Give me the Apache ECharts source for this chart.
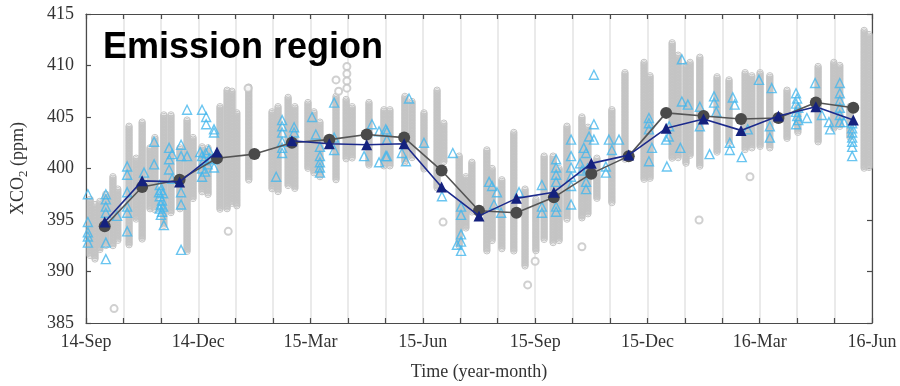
<!DOCTYPE html>
<html>
<head>
<meta charset="utf-8">
<script src="https://cdn.jsdelivr.net/npm/echarts@6/dist/echarts.min.js"></script>
<style>
  html, body { margin: 0; padding: 0; background: #fff; }
  #chart { width: 900px; height: 386px; }
</style>
</head>
<body>
<div id="chart"></div>
<script>
// months from 14-Sep to 16-May, monthly means drawn mid-month
const months = ['14-Sep', '14-Oct', '14-Nov', '14-Dec', '15-Jan', '15-Feb', '15-Mar', '15-Apr', '15-May',
  '15-Jun', '15-Jul', '15-Aug', '15-Sep', '15-Oct', '15-Nov', '15-Dec', '16-Jan', '16-Feb', '16-Mar',
  '16-Apr', '16-May'];
const tickLabels = ['14-Sep', '14-Dec', '15-Mar', '15-Jun', '15-Sep', '15-Dec', '16-Mar', '16-Jun'];
const yTicks = [385, 390, 395, 400, 405, 410, 415];

// dark gray monthly mean (circles)
const grayMean = [394.4, 398.2, 398.9, 401.0, 401.4, 402.5, 402.8, 403.3, 403.0, 399.8, 395.9, 395.7,
  397.2, 399.5, 401.2, 405.4, 405.1, 404.8, 404.9, 406.4, 405.9];
// dark blue monthly mean (triangles), no value in 15-Jan
const blueMean = [394.8, 398.8, 398.7, 401.6, null, 402.7, 402.4, 402.3, 402.4, 398.2, 395.4, 397.1,
  397.7, 400.5, 401.3, 403.9, 404.8, 403.7, 405.1, 406.0, 404.7];

// dense columns of individual soundings: [month, low, high]
const soundingCols = [
  [0.11, 391.5, 397.0], [0.24, 391.2, 396.5], [0.37, 392.0, 396.8], [0.53, 392.5, 397.5], [0.72, 392.4, 399.2],
  [0.85, 393.0, 398.0], [1.15, 392.5, 404.1], [1.34, 395.0, 401.0], [1.50, 393.1, 404.5], [1.71, 396.0, 402.0],
  [1.84, 396.0, 403.0], [2.08, 394.4, 405.2], [2.27, 395.6, 405.2], [2.51, 396.0, 402.0], [2.70, 391.9, 404.7],
  [2.86, 397.0, 403.0], [3.10, 397.7, 402.1], [3.26, 397.5, 402.0], [3.58, 396.0, 406.0], [3.77, 396.0, 407.6],
  [3.90, 396.5, 407.5], [4.03, 396.3, 405.4], [4.35, 398.9, 407.9], [4.97, 398.0, 405.5], [5.13, 397.7, 406.0],
  [5.40, 398.3, 406.9], [5.58, 398.0, 406.0], [5.93, 399.9, 406.4], [6.09, 399.5, 405.5], [6.25, 399.2, 404.5],
  [6.68, 398.9, 407.0], [6.95, 400.9, 406.7], [7.11, 401.0, 406.0], [7.56, 400.2, 406.4], [7.96, 400.2, 405.7],
  [8.12, 400.2, 405.7], [8.52, 400.6, 407.0], [8.71, 401.0, 406.5], [9.03, 399.9, 405.4], [9.38, 398.0, 407.6],
  [9.56, 400.6, 404.4], [9.97, 392.5, 401.2], [10.15, 394.1, 399.2], [10.31, 395.7, 400.6], [10.71, 391.9, 401.8],
  [10.85, 393.0, 400.0], [11.11, 392.2, 398.9], [11.43, 391.9, 403.5], [11.73, 390.5, 398.0], [12.02, 391.9, 397.0],
  [12.24, 393.1, 401.2], [12.48, 392.8, 401.2], [12.64, 393.0, 400.0], [12.85, 395.1, 404.1], [13.25, 395.1, 405.0],
  [13.41, 395.5, 404.0], [13.65, 397.0, 401.0], [14.05, 396.7, 405.7], [14.40, 400.9, 409.3], [14.91, 398.9, 410.3],
  [15.07, 399.0, 409.0], [15.66, 400.9, 412.2], [15.82, 401.0, 411.0], [16.03, 400.5, 410.0], [16.14, 401.2, 410.3],
  [16.40, 400.2, 410.8], [16.86, 401.5, 408.9], [17.18, 402.5, 408.6], [17.61, 401.8, 409.3], [17.79, 402.0, 409.0],
  [18.01, 402.1, 409.3], [18.27, 402.0, 409.0], [18.73, 402.8, 407.6], [19.02, 403.5, 406.0], [19.56, 402.5, 409.9],
  [19.98, 403.8, 410.3], [20.14, 404.0, 410.0], [20.41, 403.0, 406.0], [20.79, 399.9, 413.4], [20.92, 400.0, 413.0]
];

// isolated gray soundings
const soundingOutliers = [
  [0.75, 386.4], [3.80, 393.9], [9.54, 394.8], [11.80, 388.7], [13.25, 392.4], [12.00, 391.0],
  [16.38, 395.0], [17.74, 399.2], [6.97, 409.9], [6.97, 409.2], [6.97, 408.5], [6.97, 407.8],
  [6.68, 408.6], [6.75, 407.5], [4.33, 407.8]
];

// light blue triangles
const otherPoints = [
  [0.05, 397.5], [0.05, 394.8], [0.05, 393.8], [0.05, 392.8], [0.05, 393.4],
  [0.53, 397.5], [0.53, 397.0], [0.53, 396.3], [0.53, 395.7], [0.53, 392.8], [0.53, 391.2], [0.83, 395.4],
  [1.10, 400.2], [1.10, 399.4], [1.10, 397.7], [1.10, 396.3], [1.10, 395.7], [1.10, 393.9],
  [1.55, 399.6], [1.82, 402.6], [1.82, 400.4],
  [1.95, 397.7], [1.97, 398.4], [2.00, 397.9], [1.97, 397.3], [2.03, 396.9], [2.00, 396.5], [1.97, 396.1],
  [2.03, 395.8], [2.00, 395.5], [2.06, 397.6], [2.06, 396.3],
  [2.08, 394.5], [2.22, 402.0], [2.22, 400.9], [2.22, 399.9], [2.30, 401.4], [2.30, 399.0],
  [2.54, 402.3], [2.54, 401.2], [2.54, 397.7], [2.54, 396.5], [2.54, 392.1], [2.70, 405.7], [2.70, 401.2],
  [3.10, 405.7], [3.21, 405.0], [3.21, 404.3], [3.10, 399.2],
  [3.05, 401.6], [3.10, 401.2], [3.15, 400.8], [3.20, 401.5], [3.25, 400.4], [3.10, 400.0], [3.30, 401.0],
  [3.18, 399.7], [3.28, 401.8],
  [3.42, 403.8], [3.42, 403.5], [3.42, 400.9], [3.42, 400.1],
  [5.08, 399.2], [5.24, 404.7], [5.24, 404.1], [5.24, 403.5], [5.24, 402.6], [5.24, 402.0], [5.24, 401.5],
  [5.56, 404.0], [5.56, 403.5],
  [6.04, 405.0], [6.14, 403.3], [6.25, 402.1], [6.25, 401.2], [6.25, 400.6], [6.25, 400.1], [6.25, 399.6],
  [6.63, 406.4], [6.63, 403.0], [6.63, 401.8],
  [7.43, 401.2], [7.64, 404.3], [7.83, 403.6], [7.83, 400.6], [8.01, 403.8], [8.01, 401.2],
  [8.04, 403.6], [8.04, 402.8], [8.04, 401.2], [8.44, 401.5], [8.55, 400.7], [8.63, 406.8], [9.03, 402.5],
  [9.51, 397.3], [9.80, 401.5], [10.02, 396.3], [10.02, 395.5], [10.02, 393.6], [10.02, 392.9], [9.91, 392.6],
  [10.02, 392.0],
  [10.77, 398.7], [10.85, 398.3], [10.98, 397.7], [10.90, 396.5], [11.09, 395.7], [11.57, 397.7],
  [12.18, 398.4], [12.18, 396.3], [12.18, 395.7],
  [12.56, 400.9], [12.56, 400.1], [12.56, 399.4], [12.56, 398.7], [12.56, 396.3], [12.56, 395.8],
  [12.96, 402.8], [12.96, 401.2], [12.96, 400.1], [12.96, 399.2], [12.96, 398.3], [12.96, 396.5],
  [13.30, 402.0], [13.36, 401.5], [13.36, 398.7], [13.36, 398.0], [13.44, 403.1], [13.57, 409.1],
  [13.57, 404.3], [13.57, 402.8], [13.20, 400.5], [13.25, 399.8], [13.40, 400.0],
  [13.89, 400.2], [13.89, 399.6], [13.97, 402.8], [14.05, 401.8], [14.24, 402.8],
  [15.04, 404.9], [15.04, 404.4], [15.04, 403.8], [15.04, 400.7], [15.12, 402.0],
  [15.52, 400.2], [15.57, 403.1], [15.92, 410.6], [15.92, 406.5], [15.58, 404.1], [15.50, 402.8],
  [15.88, 402.0], [16.08, 406.2], [16.40, 406.0], [16.40, 404.1],
  [16.66, 401.4], [16.78, 407.0], [16.78, 406.4], [16.84, 405.5],
  [17.20, 402.5], [17.20, 401.8], [17.28, 406.9], [17.33, 406.2], [17.52, 401.1], [17.68, 403.8], [17.98, 408.6],
  [18.32, 407.8], [18.27, 404.1], [18.27, 403.0],
  [18.97, 407.3], [19.00, 406.8], [18.97, 406.3], [19.03, 405.9], [18.97, 405.5], [19.00, 405.1],
  [19.03, 404.7], [18.97, 404.3],
  [19.26, 404.9], [19.48, 408.3], [19.66, 405.2], [19.88, 403.8], [19.85, 404.5],
  [20.14, 408.3], [20.14, 407.3], [20.14, 406.6], [20.14, 405.9], [20.14, 405.2], [20.14, 404.5], [20.25, 404.5],
  [20.47, 404.4], [20.47, 403.9], [20.47, 403.5], [20.47, 403.0], [20.47, 402.6], [20.47, 402.1], [20.47, 401.2]
];

const serif = '"Liberation Serif", "DejaVu Serif", serif';
const axisColor = '#4a4a4a';

const chart = echarts.init(document.getElementById('chart'), null, { renderer: 'canvas' });

const xBase = {
  type: 'value',
  min: 0,
  max: 21,
  interval: 1,
  axisLine: { show: true, onZero: false, lineStyle: { color: axisColor, width: 1.2 } },
  axisTick: { show: true, inside: true, length: 5, lineStyle: { color: axisColor, width: 1.2 } }
};
const yBase = {
  type: 'value',
  min: 385,
  max: 415,
  interval: 5,
  axisLine: { show: true, onZero: false, lineStyle: { color: axisColor, width: 1.2 } },
  axisTick: { show: true, inside: true, length: 5, lineStyle: { color: axisColor, width: 1.2 } },
  splitLine: { show: false }
};

chart.setOption({
  animation: false,
  backgroundColor: '#fff',
  title: {
    text: 'Emission region',
    left: 98,
    top: 25,
    textStyle: { fontFamily: '"Liberation Sans", Arial, sans-serif', fontWeight: 'bold', fontSize: 36, color: '#000' }
  },
  grid: { left: 86, right: 28, top: 14, bottom: 62 },
  xAxis: [
    Object.assign({}, xBase, {
      position: 'bottom',
      name: 'Time (year-month)',
      nameLocation: 'middle',
      nameGap: 40,
      nameTextStyle: { fontFamily: serif, fontSize: 18, color: '#333' },
      axisLabel: {
        margin: 10,
        fontFamily: serif,
        fontSize: 18,
        color: '#333',
        formatter: function (v) { return v % 3 === 0 ? tickLabels[v / 3] : ''; }
      },
      splitLine: { show: true, lineStyle: { color: '#e3e3e3', width: 1.5 } }
    }),
    Object.assign({}, xBase, {
      position: 'top',
      axisLabel: { show: false },
      splitLine: { show: false }
    })
  ],
  yAxis: [
    Object.assign({}, yBase, {
      position: 'left',
      name: 'XCO{sub|2} (ppm)',
      nameLocation: 'middle',
      nameGap: 56,
      nameRotate: 90,
      nameTextStyle: {
        fontFamily: serif, fontSize: 18, color: '#333',
        rich: { sub: { fontFamily: serif, fontSize: 13, color: '#333', padding: [10, 0, 0, 0] } }
      },
      axisLabel: { margin: 12, fontFamily: serif, fontSize: 18, color: '#333' }
    }),
    Object.assign({}, yBase, {
      position: 'right',
      axisLabel: { show: false }
    })
  ],
  series: [
    {
      type: 'custom',
      name: 'soundings',
      data: soundingCols,
      encode: { x: 0, y: [1, 2] },
      z: 1,
      renderItem: function (params, api) {
        const top = api.coord([api.value(0), api.value(2)]);
        const bot = api.coord([api.value(0), api.value(1)]);
        const children = [{
          type: 'rect',
          shape: { x: top[0] - 2.6, y: top[1], width: 5.2, height: bot[1] - top[1] },
          style: { fill: '#cfcfcf' }
        }];
        for (let y = top[1]; y <= bot[1] + 0.1; y += 1.6) {
          children.push({
            type: 'circle',
            shape: { cx: top[0], cy: y, r: 3.2 },
            style: { fill: 'none', stroke: '#c4c4c4', lineWidth: 1 }
          });
        }
        return { type: 'group', children: children };
      }
    },
    {
      type: 'scatter',
      name: 'outliers',
      data: soundingOutliers,
      symbol: 'emptyCircle',
      symbolSize: 7,
      z: 2,
      itemStyle: { color: '#c4c4c4', borderColor: '#c4c4c4', borderWidth: 1 }
    },
    {
      type: 'scatter',
      name: 'other',
      data: otherPoints,
      symbol: 'triangle',
      symbolSize: 9,
      z: 3,
      itemStyle: { color: 'rgba(255,255,255,0)', borderColor: '#45b6ec', borderWidth: 1.4 }
    },
    {
      type: 'line',
      name: 'gray mean',
      data: grayMean.map(function (v, i) { return [i + 0.5, v]; }),
      symbol: 'circle',
      symbolSize: 12,
      z: 4,
      lineStyle: { color: '#555', width: 1.6 },
      itemStyle: { color: '#4a4a4a' }
    },
    {
      type: 'line',
      name: 'blue mean',
      data: blueMean.map(function (v, i) { return [i + 0.5, v]; }),
      connectNulls: false,
      symbol: 'triangle',
      symbolSize: 11,
      z: 5,
      lineStyle: { color: '#1c2a8c', width: 1.6 },
      itemStyle: { color: '#14217e' }
    }
  ]
});
</script>
</body>
</html>
